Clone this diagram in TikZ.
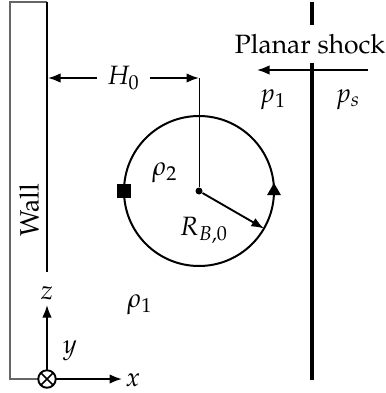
\documentclass[tikz,border=0pt]{standalone}
\usepackage[T1]{fontenc}
\usepackage{mathpazo}
\usetikzlibrary{arrows.meta,positioning,shapes.geometric}
\begin{document}
\begin{tikzpicture}[x=0.4pt,y=-0.4pt,
    arr/.style={-{Latex[length=5pt,width=3.8pt]}, line width=0.75pt},
    dimarr/.style={{Latex[length=5pt,width=3.8pt]}-{Latex[length=5pt,width=3.8pt]}, line width=0.75pt},
    shockline/.style={line width=1.7pt},
    thinline/.style={line width=0.4pt},
    marker/.style={fill, inner sep=0pt},
    every node/.style={font=\fontsize{10.6}{12}\selectfont}
  ]
    \useasboundingbox (0,0) rectangle (386,393);

    % Wall
    \draw[black!60, line width=0.5pt] (47,2) -- (10,2) -- (10,379) -- (38,379);
    \draw[line width=0.75pt] (47,2) -- (47,272);
    \node[rotate=90] (wall) at (29,210) {Wall};

    % Axes
    \node[circle, draw, line width=0.75pt, inner sep=0pt, outer sep=0pt, minimum size=7pt] (orig) at (47,379) {};
    \draw[line width=0.6pt] (orig.45) -- (orig.225) (orig.135) -- (orig.315);
    \coordinate (xend) at (122,379);
    \coordinate (zend) at (47,305);
    \draw[arr] (orig.east) -- (xend);
    \draw[arr] (orig.north) -- (zend);
    \node (xlab) at (133,380) {$x$};
    \node (zlab) at (47,293) {$z$};
    \node (ylab) at (70,351) {$y$};

    % Bubble
    \node[circle, draw, line width=0.8pt, inner sep=0pt, outer sep=0pt, minimum size=60pt] (bub) at (199,191) {};
    \node[circle, fill, inner sep=0pt, minimum size=2.8pt] (c) at (bub.center) {};
    \node[marker, minimum size=5.4pt] (sq) at (bub.west) {};
    \node[marker, regular polygon, regular polygon sides=3, minimum size=6.4pt] (tri) at (bub.east) {};
    \draw[arr] (c) -- (bub.-30);
    \node (rad) at (204,230) {$R_{B,0}$};
    \node (rho2) at (165,173) {$\rho_2$};
    \node (rho1) at (140,305) {$\rho_1$};

    % Stand-off distance
    \coordinate (hl) at (48,78);
    \coordinate (hr) at (199,78);
    \draw[dimarr] (hl) -- node[fill=white, inner sep=4pt] (hlab) {$H_0$} (hr);
    \draw[thinline] (hr) -- (c);

    % Planar shock
    \node (shock) at (310,44) {Planar shock};
    \coordinate (s0) at (312,2);
    \coordinate (s1) at (312,380);
    \draw[shockline] (s0) -- (s0 |- shock.north);
    \draw[shockline] (shock.south -| s0) -- (s1);
    \coordinate (ar) at (368,70);
    \coordinate (al) at (257,70);
    \draw[arr] (ar) -- (al);
    \node (p1) at (273,100) {$p_1$};
    \node (ps) at (348,100) {$p_s$};
\end{tikzpicture}
\end{document}
